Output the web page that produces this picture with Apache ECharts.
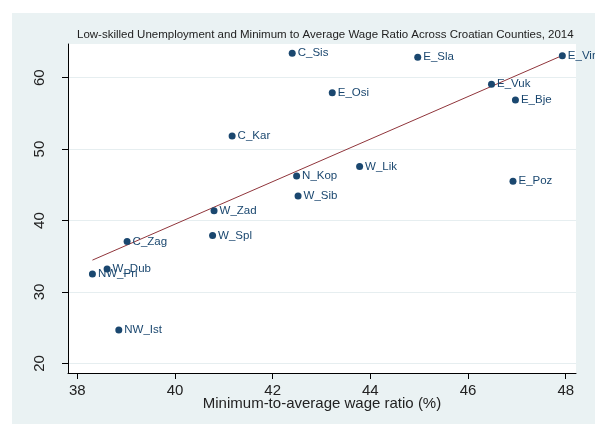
<!DOCTYPE html>
<html>
<head>
<meta charset="utf-8">
<script src="https://cdn.jsdelivr.net/npm/echarts@6/dist/echarts.min.js"></script>
<style>
html,body{margin:0;padding:0;background:#fff;}
#chart{width:595px;height:424px;}
</style>
</head>
<body>
<div id="chart"></div>
<script>
var countyNames = ['C_Sis','E_Sla','E_Vir','E_Vuk','E_Osi','E_Bje','C_Kar','W_Lik','N_Kop','E_Poz','W_Sib','W_Zad','W_Spl','C_Zag','W_Dub','NW_Pri','NW_Ist'];
var wageRatio = [42.40, 44.97, 47.93, 46.48, 43.22, 46.97, 41.17, 43.78, 42.49, 46.92, 42.52, 40.80, 40.77, 39.02, 38.61, 38.31, 38.85];
var unemployment = [63.41, 62.85, 63.08, 59.08, 57.90, 56.88, 51.85, 47.55, 46.25, 45.51, 43.45, 41.36, 37.90, 37.06, 33.20, 32.50, 24.67];
var fitX = [38.31, 47.93];
var fitY = [34.46, 63.10];
var xTicks = [38, 40, 42, 44, 46, 48];
var yTicks = [20, 30, 40, 50, 60];

var points = countyNames.map(function (n, i) { return [wageRatio[i], unemployment[i], n]; });
var fitLine = fitX.map(function (x, i) { return [x, fitY[i]]; });

var chart = echarts.init(document.getElementById('chart'), null, {renderer: 'canvas'});
var FONT = "'Liberation Sans', Arial, Helvetica, sans-serif";
chart.setOption({
  animation: false,
  backgroundColor: '#ffffff',
  graphic: {
    elements: [{
      type: 'rect', z: -10, silent: true,
      shape: {x: 12, y: 13, width: 583, height: 411},
      style: {fill: '#eaf2f3'}
    }]
  },
  title: {
    text: 'Low-skilled Unemployment and Minimum to Average Wage Ratio Across Croatian Counties, 2014',
    left: 77, top: 29, padding: 0,
    textStyle: {fontFamily: FONT, fontSize: 11.5, fontWeight: 'normal', color: '#222'}
  },
  grid: {
    left: 68, right: 19, top: 44, bottom: 51,
    show: true, backgroundColor: '#ffffff', borderWidth: 0, containLabel: false
  },
  xAxis: {
    type: 'value', min: 37.81, max: 48.21,
    name: 'Minimum-to-average wage ratio (%)', nameLocation: 'middle', nameGap: 23,
    nameMoveOverlap: false,
    nameTextStyle: {fontFamily: FONT, fontSize: 15, color: '#222'},
    axisLine: {show: true, onZero: false, lineStyle: {color: '#000', width: 1}},
    axisTick: {show: true, length: 6, lineStyle: {color: '#000'}, customValues: xTicks},
    axisLabel: {fontFamily: FONT, fontSize: 15, color: '#222', margin: 10, customValues: xTicks},
    splitLine: {show: false}
  },
  yAxis: {
    type: 'value', min: 18.66, max: 64.71,
    axisLine: {show: true, onZero: false, lineStyle: {color: '#000', width: 1}},
    axisTick: {show: true, length: 6, lineStyle: {color: '#000'}, customValues: yTicks},
    axisLabel: {fontFamily: FONT, fontSize: 15, color: '#222', rotate: 90, margin: 21, customValues: yTicks},
    splitLine: {show: true, lineStyle: {color: '#e6eef0', width: 1}}
  },
  series: [
    {
      type: 'line', data: fitLine, symbol: 'none', z: 1,
      lineStyle: {color: '#90353b', width: 1}
    },
    {
      type: 'scatter', data: points, symbolSize: 7, z: 2, clip: false,
      itemStyle: {color: '#1a476f', opacity: 1},
      label: {
        show: true, position: 'right', distance: 2,
        formatter: function (p) { return p.data[2]; },
        fontFamily: FONT, fontSize: 11.5, color: '#1a476f'
      }
    }
  ]
});
</script>
</body>
</html>
